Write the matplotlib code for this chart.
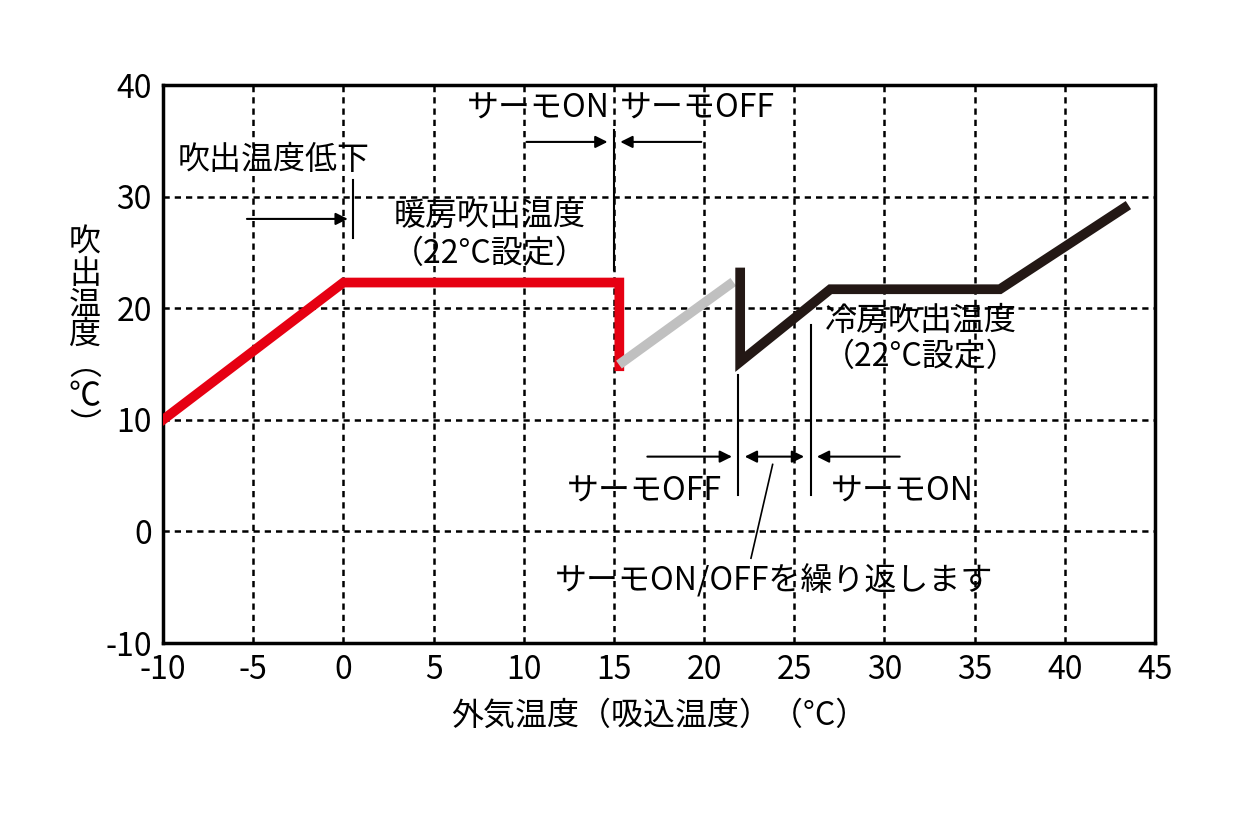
import matplotlib
matplotlib.use('Agg')
import matplotlib.pyplot as plt

plt.rcParams['font.family'] = ['Noto Sans CJK JP', 'DejaVu Sans']
plt.rcParams['axes.unicode_minus'] = False

# heating line
heat_x = [-10, 0, 15.3, 15.3]
heat_y = [10, 22.3, 22.3, 14.8]
# thermo off (grey)
gray_x = [15.5, 21.4]
gray_y = [15.2, 22.1]
# cooling line
cool_x = [22.0, 22.0, 27.0, 36.4, 43.3]
cool_y = [23.2, 15.2, 21.7, 21.7, 29.0]

xticks = list(range(-10, 50, 5))
yticks = list(range(-10, 50, 10))

FS = 23

fig = plt.figure(figsize=(12.4, 8.3), dpi=100)
ax = fig.add_axes([163/1240, 187/830, 992/1240, 558/830])
ax.set_xlim(-10, 45)
ax.set_ylim(-10, 40)
ax.set_xticks(xticks)
ax.set_yticks(yticks)
ax.tick_params(labelsize=23, length=0, pad=8)
ax.grid(True, color='black', linestyle=(0, (2.5, 2)), linewidth=1.8)
for s in ax.spines.values():
    s.set_linewidth(2.5)

ax.plot(heat_x, heat_y, color='#e60012', lw=7, solid_joinstyle='miter', zorder=3)
ax.plot(gray_x, gray_y, color='#c0c0c0', lw=7, zorder=3)
ax.plot(cool_x, cool_y, color='#231815', lw=7, solid_joinstyle='miter', zorder=3)

ax.set_xlabel('外気温度（吸込温度）（°C）', fontsize=FS, labelpad=10)
fig.text(85/1240, 1 - 335/830, '吹\n出\n温\n度\n︵\n℃\n︶', fontsize=FS,
         ha='center', va='center', linespacing=0.95)

arr = dict(arrowstyle='-|>', color='black', lw=1.5, mutation_scale=18)
def arrow(x0, x1, y):
    ax.annotate('', xy=(x1, y), xytext=(x0, y), arrowprops=arr)

# heating annotations
ax.plot([0.55, 0.55], [26.3, 31.5], color='black', lw=1.5)
arrow(-5.5, 0.4, 28)
ax.text(-9.2, 33.3, '吹出温度低下', fontsize=FS, va='center')
ax.text(8.1, 28.3, '暖房吹出温度', fontsize=FS, va='center', ha='center')
ax.text(8.1, 24.9, '（22°C設定）', fontsize=FS, va='center', ha='center')
ax.plot([15.0, 15.0], [23.4, 36.0], color='black', lw=1.5)
arrow(10.0, 14.8, 34.9)
arrow(20.0, 15.2, 34.9)
ax.text(10.8, 37.9, 'サーモON', fontsize=FS, va='center', ha='center')
ax.text(19.6, 37.9, 'サーモOFF', fontsize=FS, va='center', ha='center')

# cooling annotations
ax.plot([21.9, 21.9], [3.3, 14.0], color='black', lw=1.5)
ax.plot([25.9, 25.9], [3.3, 18.5], color='black', lw=1.5)
arrow(16.7, 21.7, 6.7)
arrow(31.0, 26.1, 6.7)
ax.annotate('', xy=(22.1, 6.7), xytext=(25.7, 6.7),
            arrowprops=dict(arrowstyle='<|-|>', color='black', lw=1.5, mutation_scale=18))
ax.plot([23.8, 22.6], [6.0, -2.4], color='black', lw=1.2)
ax.text(16.7, 3.6, 'サーモOFF', fontsize=FS, va='center', ha='center')
ax.text(31.0, 3.6, 'サーモON', fontsize=FS, va='center', ha='center')
ax.text(32.0, 18.9, '冷房吹出温度', fontsize=FS, va='center', ha='center')
ax.text(32.0, 15.6, '（22°C設定）', fontsize=FS, va='center', ha='center')
ax.text(23.9, -4.4, 'サーモON/OFFを繰り返します', fontsize=FS, va='center', ha='center')

fig.savefig('out.png', dpi=100)
